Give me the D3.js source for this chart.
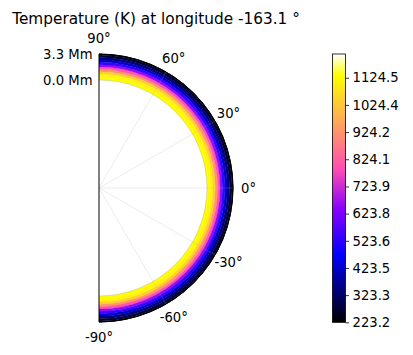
<!DOCTYPE html>
<html>
<head>
<meta charset="utf-8">
<script src="https://cdn.jsdelivr.net/npm/d3@7"></script>
<style>
body { margin: 0; background: #fff; }
svg { font-family: "DejaVu Sans", sans-serif; }
</style>
</head>
<body>
<svg id="chart" width="413" height="355"></svg>
<script>
// altitude above the base (Mm) and temperature (K) of the ring
const heights = [0, 0.3, 0.6, 0.9, 1.2, 1.5, 1.8, 2.1, 2.4, 2.7, 3.0, 3.3];
const temps   = [1130, 1125, 1110, 1040, 930, 800, 660, 540, 430, 345, 285, 235];

const angleTicks = [90, 60, 30, 0, -30, -60, -90];
const radialTicks = [0, 3.3];
const cbarTicks = [223.2, 323.3, 423.5, 523.6, 623.8, 723.9, 824.1, 924.2, 1024.4, 1124.5];
const tMin = 223.2, tMax = 1212;

const titleText = "Temperature (K) at longitude -163.1 °";

// matplotlib gnuplot2
function gnuplot2(x) {
	const c = v => Math.max(0, Math.min(1, v));
	let r = c(x/0.32 - 0.78125);
	let g = c(2*x - 0.84);
	let b;
	if (x < 0.25) b = 4*x;
	else if (x < 0.42) b = 1;
	else if (x < 0.92) b = -2*x + 1.84;
	else b = x/0.08 - 11.5;
	b = c(b);
	return d3.rgb(r*255, g*255, b*255).formatHex();
}

const svg = d3.select("#chart");
const cx = 99, cy = 188;

const color = d3.scaleLinear().domain([tMin, tMax]).range([0, 1]).clamp(true);
const rscale = d3.scaleLinear().domain([0, 3.3]).range([108, 134]);

const pt = (deg, R) => [cx + R*Math.cos(deg*Math.PI/180), cy - R*Math.sin(deg*Math.PI/180)];

// title
svg.append("text")
	.attr("x", 156).attr("y", 23.5)
	.attr("text-anchor", "middle")
	.style("font-size", "15.3px")
	.text(titleText);

// ring bands
const arc = d3.arc();
const g = svg.append("g").attr("transform", "translate(" + cx + "," + cy + ")");
heights.forEach((h, i) => {
	let lo = i == 0 ? 0 : (heights[i-1] + h)/2;
	let hi = i == heights.length-1 ? 3.3 : (heights[i+1] + h)/2;
	g.append("path")
		.attr("d", arc({innerRadius: rscale(lo), outerRadius: rscale(hi) + 0.3, startAngle: 0, endAngle: Math.PI}))
		.attr("fill", gnuplot2(color(temps[i])));
});

// grid
angleTicks.slice(1, -1).forEach(a => {
	let p = pt(a, rscale(3.3));
	svg.append("line")
		.attr("x1", cx).attr("y1", cy).attr("x2", p[0]).attr("y2", p[1])
		.attr("stroke", "#b0b0b0").attr("stroke-opacity", 0.3).attr("stroke-width", 0.8);
});
g.append("path")
	.attr("d", arc({innerRadius: rscale(0), outerRadius: rscale(0), startAngle: 0, endAngle: Math.PI}))
	.attr("fill", "none").attr("stroke", "#b0b0b0").attr("stroke-opacity", 0.3).attr("stroke-width", 0.8);

// spines
g.append("path")
	.attr("d", d3.arc()({innerRadius: rscale(3.3), outerRadius: rscale(3.3), startAngle: 0, endAngle: Math.PI}))
	.attr("fill", "none").attr("stroke", "#000").attr("stroke-width", 0.8);
svg.append("line")
	.attr("x1", cx).attr("x2", cx)
	.attr("y1", cy - rscale(3.3)).attr("y2", cy + rscale(3.3))
	.attr("stroke", "#000").attr("stroke-width", 1);

// angle labels
angleTicks.forEach(a => {
	let p = pt(a, 149.5);
	svg.append("text")
		.attr("x", p[0]).attr("y", p[1])
		.attr("text-anchor", "middle")
		.attr("dominant-baseline", "central")
		.style("font-size", "13.2px")
		.text(a + "°");
});

// radial labels
radialTicks.forEach(r => {
	svg.append("text")
		.attr("x", cx - 6.5).attr("y", cy - rscale(r))
		.attr("text-anchor", "end")
		.attr("dominant-baseline", "central")
		.style("font-size", "13.2px")
		.text(r.toFixed(1) + " Mm");
});

// colorbar
const cbX = 332.5, cbW = 13, cbTop = 54, cbBot = 322.3;
const cy_scale = d3.scaleLinear().domain([tMin, tMax]).range([cbBot, cbTop]);

const grad = svg.append("defs").append("linearGradient")
	.attr("id", "cbgrad").attr("x1", 0).attr("y1", 1).attr("x2", 0).attr("y2", 0);
d3.range(0, 1.0001, 0.01).forEach(t => {
	grad.append("stop").attr("offset", t).attr("stop-color", gnuplot2(t));
});
svg.append("rect")
	.attr("x", cbX).attr("y", cbTop).attr("width", cbW).attr("height", cbBot - cbTop)
	.attr("fill", "url(#cbgrad)")
	.attr("stroke", "#000").attr("stroke-width", 0.8);

const cbAxis = d3.axisRight(cy_scale)
	.tickValues(cbarTicks)
	.tickFormat(d3.format(".1f"))
	.tickSize(3.5).tickPadding(3.5);
svg.append("g")
	.attr("transform", "translate(" + (cbX + cbW) + ",0)")
	.call(cbAxis)
	.call(a => a.select(".domain").remove())
	.call(a => a.selectAll("text").style("font-size", "13.2px").attr("fill", "#000").style("font-family", "DejaVu Sans"))
	.call(a => a.selectAll("line").attr("stroke", "#000").attr("stroke-width", 0.8));
</script>
</body>
</html>
